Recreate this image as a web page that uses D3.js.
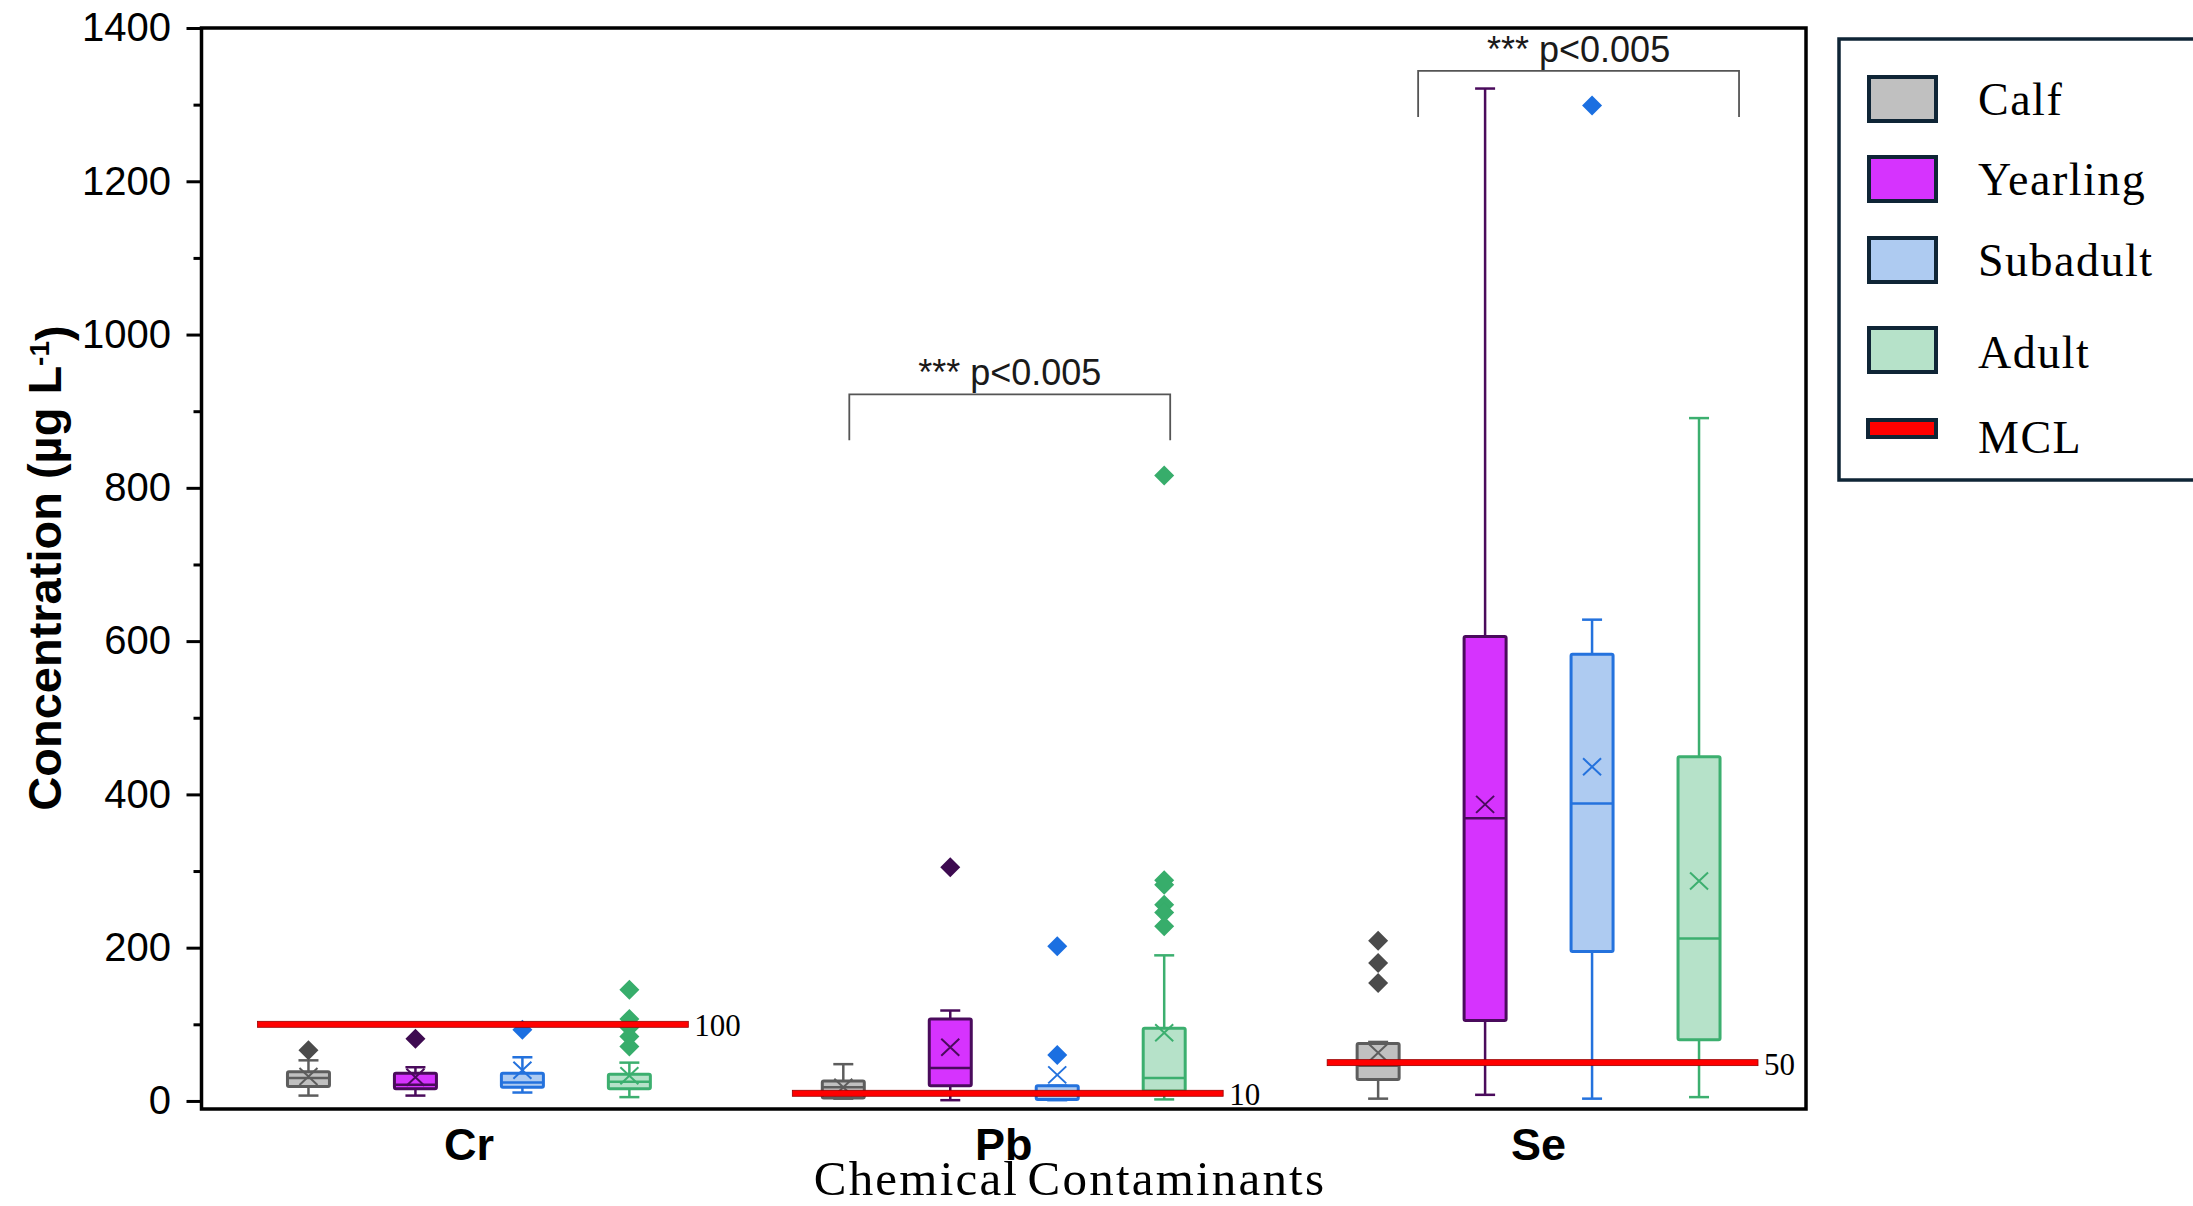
<!DOCTYPE html>
<html>
<head>
<meta charset="utf-8">
<script src="https://cdn.jsdelivr.net/npm/d3@7"></script>
<style>
  html, body { margin: 0; padding: 0; background: #ffffff; }
  svg { display: block; }
</style>
</head>
<body>
<svg id="chart" width="2193" height="1206"></svg>
<script>
// ---------------- DATA ----------------
const contaminants = ["Cr", "Pb", "Se"];
const ageClasses = ["Calf", "Yearling", "Subadult", "Adult"];
const mclValues = [100, 10, 50];           // MCL per contaminant (µg/L)
const mclLabels = ["100", "10", "50"];
const yTickValues = [0, 200, 400, 600, 800, 1000, 1200, 1400];
const yMinorTickValues = [100, 300, 500, 700, 900, 1100, 1300];

// box stats per contaminant (Cr, Pb, Se): [whiskerLow, q1, median, q3, whiskerHigh, mean]
const calfBox     = [[7, 19, 30, 38, 53, 32],   [3, 4, 18, 26, 48, 18],    [3, 28, 46, 75, 77, 63]];
const yearlingBox = [[7, 16, 21, 36, 44, 31],   [1, 20, 43, 107, 118, 70], [8, 105, 369, 606, 1321, 387]];
const subadultBox = [[11, 18, 24, 36, 57, 40],  [1, 2, 8, 20, 20, 34],     [3, 195, 388, 583, 628, 436]];
const adultBox    = [[5, 16, 25, 35, 50, 33],   [2, 13, 30, 95, 190, 89],  [5, 80, 212, 449, 891, 287]];

const calfOutliers     = [[66], [], [209, 180, 154]];
const yearlingOutliers = [[81], [305], []];
const subadultOutliers = [[93], [202, 60], [1299]];
const adultOutliers    = [[145, 107, 96, 84, 71], [816, 288, 282, 256, 246, 228], []];

const sigLabels = ["*** p<0.005", "*** p<0.005"];
const sigContaminants = ["Pb", "Se"];

const legendLabels = ["Calf", "Yearling", "Subadult", "Adult", "MCL"];

// ---------------- STYLE ----------------
const fills   = ["#c0c0c0", "#d633fe", "#aecbf1", "#b6e2c9"];
const strokes = ["#5d5d5d", "#4a0b5c", "#2472dd", "#3caf6f"];
const outlierFills = ["#4b4b4b", "#3d0a50", "#1b6fe1", "#37ad6b"];
const navy = "#0f2536";

const boxesByClass = [calfBox, yearlingBox, subadultBox, adultBox];
const outliersByClass = [calfOutliers, yearlingOutliers, subadultOutliers, adultOutliers];

// ---------------- LAYOUT ----------------
const svg = d3.select("#chart");
const plotLeft = 201.5, plotRight = 1806, plotTop = 28, plotBottom = 1109;

const x0 = d3.scaleBand().domain(contaminants).range([plotLeft, plotRight]);
const x1 = d3.scalePoint().domain(ageClasses).range([0, x0.bandwidth()]).padding(1);
const y = d3.scaleLinear().domain([-10.5, 1400]).range([plotBottom, plotTop]);

const sansFont = "'Liberation Sans', Arial, Helvetica, sans-serif";
const serifFont = "'Liberation Serif', 'Times New Roman', Times, serif";

// ---------------- AXES ----------------
const yAxisMajor = d3.axisLeft(y).tickValues(yTickValues).tickSize(15).tickPadding(15.5).tickFormat(d3.format("d"));
const yAxisMinor = d3.axisLeft(y).tickValues(yMinorTickValues).tickSize(8).tickFormat("");

const gMinor = svg.append("g").attr("transform", `translate(${plotLeft},0)`).call(yAxisMinor);
gMinor.select(".domain").remove();
gMinor.selectAll(".tick line").attr("stroke", "#000").attr("stroke-width", 3);

const gMajor = svg.append("g").attr("transform", `translate(${plotLeft},0)`).call(yAxisMajor);
gMajor.select(".domain").remove();
gMajor.selectAll(".tick line").attr("stroke", "#000").attr("stroke-width", 3);
gMajor.selectAll(".tick text")
  .attr("font-family", sansFont).attr("font-size", 40).attr("fill", "#000");

// frame
svg.append("rect")
  .attr("x", plotLeft).attr("y", plotTop)
  .attr("width", plotRight - plotLeft).attr("height", plotBottom - plotTop)
  .attr("fill", "none").attr("stroke", "#000").attr("stroke-width", 3.5);

// x category labels
svg.append("g").selectAll("text").data(contaminants).join("text")
  .attr("x", d => x0(d) + x0.bandwidth() / 2)
  .attr("y", 1160)
  .attr("text-anchor", "middle")
  .attr("font-family", sansFont).attr("font-weight", "bold").attr("font-size", 45)
  .text(d => d);

// x title
svg.append("text")
  .attr("x", 1070).attr("y", 1195)
  .attr("text-anchor", "middle")
  .attr("font-family", serifFont).attr("font-size", 49)
  .attr("letter-spacing", 2.2).attr("word-spacing", -6)
  .text("Chemical Contaminants");

// y title
const yTitle = svg.append("text")
  .attr("transform", "translate(61,568) rotate(-90)")
  .attr("text-anchor", "middle")
  .attr("font-family", sansFont).attr("font-weight", "bold").attr("font-size", 47);
yTitle.append("tspan").text("Concentration (µg L");
yTitle.append("tspan").attr("dy", "-0.42em").attr("font-size", 28).text("-1");
yTitle.append("tspan").attr("dy", "0.42em").text(")");

// ---------------- BOXES ----------------
const boxW = 42, capW = 20;
const gBoxes = svg.append("g");

ageClasses.forEach((cls, ci) => {
  contaminants.forEach((c, k) => {
    const [lo, q1, med, q3, hi, mean] = boxesByClass[ci][k];
    const cx = x0(c) + x1(cls);
    const g = gBoxes.append("g");
    const col = strokes[ci];
    // whisker
    g.append("line").attr("x1", cx).attr("x2", cx).attr("y1", y(lo)).attr("y2", y(hi))
      .attr("stroke", col).attr("stroke-width", 2.5);
    [lo, hi].forEach(v => {
      g.append("line").attr("x1", cx - capW / 2).attr("x2", cx + capW / 2)
        .attr("y1", y(v)).attr("y2", y(v)).attr("stroke", col).attr("stroke-width", 2.5);
    });
    // box
    g.append("rect").attr("x", cx - boxW / 2).attr("y", y(q3))
      .attr("width", boxW).attr("height", Math.max(1, y(q1) - y(q3)))
      .attr("rx", 1.5)
      .attr("fill", fills[ci]).attr("stroke", col).attr("stroke-width", 3);
    // median
    g.append("line").attr("x1", cx - boxW / 2).attr("x2", cx + boxW / 2)
      .attr("y1", y(med)).attr("y2", y(med)).attr("stroke", col).attr("stroke-width", 2.5);
    // mean X
    const my = y(mean);
    g.append("path")
      .attr("d", `M${cx - 9},${my - 8.5}L${cx + 9},${my + 8.5}M${cx - 9},${my + 8.5}L${cx + 9},${my - 8.5}`)
      .attr("stroke", col).attr("stroke-width", 2).attr("fill", "none");
    // outliers
    g.selectAll("path.out").data(outliersByClass[ci][k]).join("path")
      .attr("class", "out")
      .attr("d", d3.symbol(d3.symbolSquare, 200)())
      .attr("transform", d => `translate(${cx},${y(d)}) rotate(45)`)
      .attr("fill", outlierFills[ci]);
  });
});

// ---------------- MCL LINES ----------------
contaminants.forEach((c, k) => {
  const xs = x0(c) + 56, xe = x0(c) + x0.bandwidth() - 48;
  const yy = y(mclValues[k]);
  svg.append("rect").attr("x", xs).attr("y", yy - 3).attr("width", xe - xs).attr("height", 6)
    .attr("fill", "#ff0000").attr("stroke", "#9a0000").attr("stroke-width", 0.8);
  svg.append("text").attr("x", xe + 6).attr("y", yy + 12)
    .attr("font-family", serifFont).attr("font-size", 31).attr("fill", "#000")
    .text(mclLabels[k]);
});

// ---------------- SIGNIFICANCE BRACKETS ----------------
const bracketSpec = {
  Pb: { shift: 6, top: 922, leg: 862 },
  Se: { shift: 40, top: 1344, leg: 1284 }
};
sigContaminants.forEach((c, i) => {
  const s = bracketSpec[c];
  const xa = x0(c) + x1("Calf") + s.shift, xb = x0(c) + x1("Adult") + s.shift;
  const yt = y(s.top), yl = y(s.leg);
  svg.append("path")
    .attr("d", `M${xa},${yl}V${yt}H${xb}V${yl}`)
    .attr("fill", "none").attr("stroke", "#555").attr("stroke-width", 1.8);
  svg.append("text").attr("x", (xa + xb) / 2).attr("y", yt - 9)
    .attr("text-anchor", "middle")
    .attr("font-family", sansFont).attr("font-size", 36).attr("fill", "#1a1a1a")
    .text(sigLabels[i]);
});

// ---------------- LEGEND ----------------
const legend = svg.append("g");
legend.append("rect").attr("x", 1839).attr("y", 39).attr("width", 420).attr("height", 441)
  .attr("fill", "#fff").attr("stroke", navy).attr("stroke-width", 3.5);
const swatchTops = [77, 157, 238, 328];
const textBaselines = [115, 195, 276, 368, 453];
ageClasses.forEach((cls, i) => {
  legend.append("rect").attr("x", 1869).attr("y", swatchTops[i]).attr("width", 67).attr("height", 44)
    .attr("fill", fills[i]).attr("stroke", navy).attr("stroke-width", 4);
});
legend.append("rect").attr("x", 1868).attr("y", 420).attr("width", 68).attr("height", 17)
  .attr("fill", "#ff0000").attr("stroke", navy).attr("stroke-width", 4);
legend.selectAll("text.lg").data(legendLabels).join("text")
  .attr("class", "lg")
  .attr("x", 1978).attr("y", (d, i) => textBaselines[i])
  .attr("font-family", serifFont).attr("font-size", 46).attr("letter-spacing", 1.5)
  .attr("fill", "#000")
  .text(d => d);
</script>
</body>
</html>
